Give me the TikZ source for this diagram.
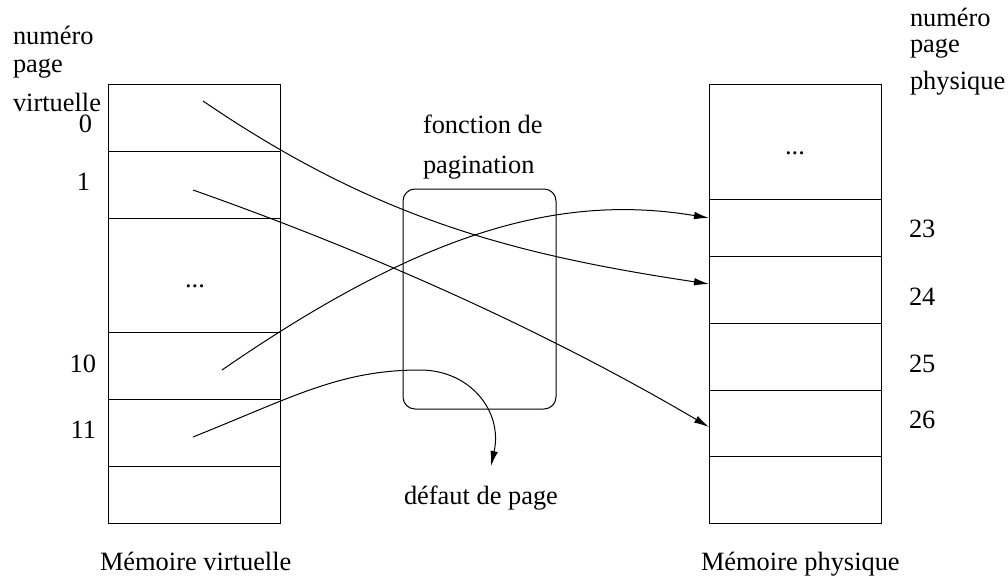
\documentclass[tikz,border=0pt]{standalone}
\usepackage{fontspec}
\setmainfont{Liberation Serif}
\newfontfamily\labelfont{Liberation Serif}
\usetikzlibrary{arrows.meta}
\begin{document}
\begin{tikzpicture}[x=0.5pt,y=-0.5pt,
  every node/.style={inner sep=0pt,outer sep=0pt,font=\labelfont\fontsize{13.2}{15}\selectfont},
  frame/.style={draw,line width=0.5pt},
  link/.style={draw,line width=0.5pt},
  linkarrow/.style={link,-{Latex[length=7.5pt,width=3.8pt]}},
  lbl/.style={anchor=base west},
  num/.style={anchor=base east}]
\useasboundingbox (0,0) rectangle (1008,578);

% virtual memory column
\draw[frame] (108,84) rectangle (280,523);
\foreach \yy in {151,218,332,399,466} \draw[frame] (108,\yy) -- (280,\yy);

% physical memory column
\draw[frame] (709,84) rectangle (881,523);
\foreach \yy in {199,256,323,390,456} \draw[frame] (709,\yy) -- (881,\yy);

% paging function box
\draw[frame,rounded corners=6pt] (403,189) rectangle (556,409);

% labels, virtual side
\node[lbl] (nv1) at (13,45) {numéro};
\node[lbl] (nv2) at (13,72) {page};
\node[lbl] (nv3) at (13,112) {virtuelle};
\node[num] (v0) at (92,132) {0};
\node[num] (v1) at (90,190) {1};
\node[num] (v10) at (96,372) {10};
\node[num] (v11) at (96,438) {11};
\node[anchor=base] (vdots) at (195,287) {...};
\node[lbl] (mv) at (100,570) {Mémoire virtuelle};

% labels, physical side
\node[lbl] (np1) at (910,26) {numéro};
\node[lbl] (np2) at (910,53) {page};
\node[lbl] (np3) at (910,90) {physique};
\node[anchor=base] (pdots) at (795,154) {...};
\node[lbl] (p23) at (909,237) {23};
\node[lbl] (p24) at (909,305) {24};
\node[lbl] (p25) at (909,372) {25};
\node[lbl] (p26) at (909,428) {26};
\node[lbl] (mp) at (701,570) {Mémoire physique};

% paging function and page fault labels
\node[lbl] (fp1) at (423,133) {fonction de};
\node[lbl] (fp2) at (423,173) {pagination};
\node[lbl] (fault) at (404,504) {défaut de page};

% connector end points
\coordinate (s0) at (203,101);
\coordinate (s1) at (193,190);
\coordinate (s10) at (222,370);
\coordinate (s11) at (193,437);
\coordinate (t23) at (709,218);
\coordinate (t24) at (709,284);
\coordinate (t26) at (709,427);
\coordinate (top11) at (420,370);
\coordinate (tfault) at (491,466);

% mappings
\draw[linkarrow] (s0) .. controls +(170,116) and +(-200,-30) .. (t24);
\draw[linkarrow] (s1) .. controls +(170,60) and +(-170,-100) .. (t26);
\draw[linkarrow] (s10) .. controls +(200,-138) and +(-150,-25) .. (t23);
\draw[linkarrow] (s11) .. controls +(100,-40) and +(-80,0) .. (top11)
                       .. controls +(50,0) and +(12,-55) .. (tfault);
\end{tikzpicture}
\end{document}
